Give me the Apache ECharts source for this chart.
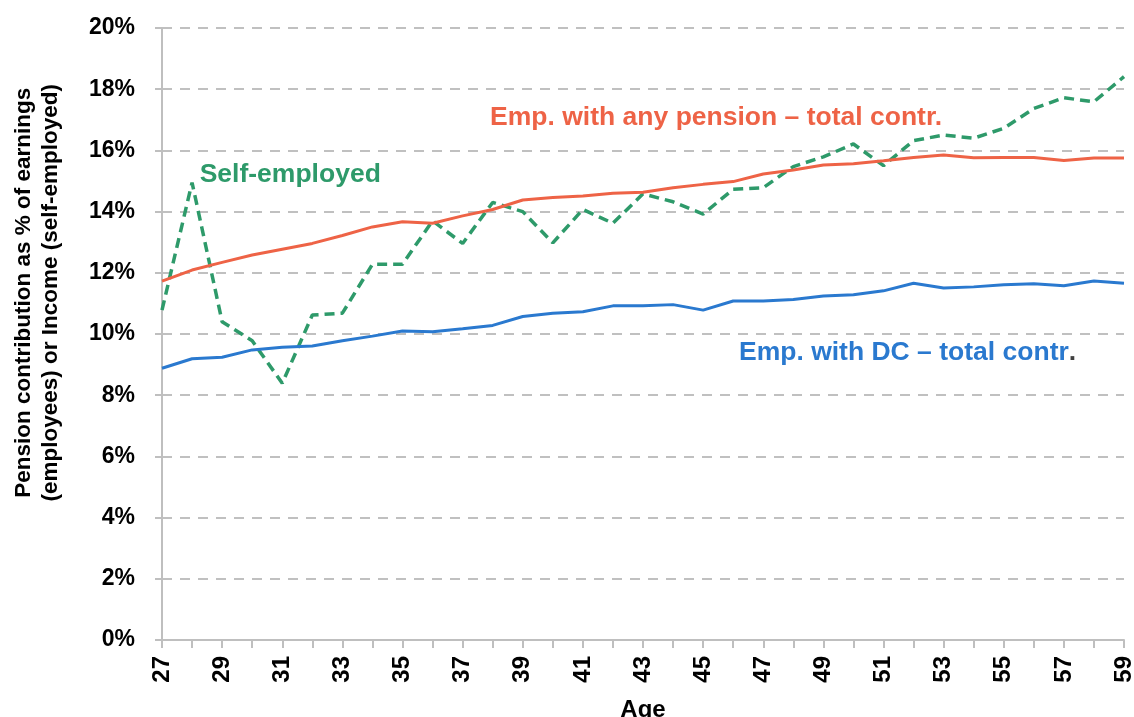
<!DOCTYPE html>
<html>
<head>
<meta charset="utf-8">
<script src="https://cdn.jsdelivr.net/npm/echarts@6/dist/echarts.min.js"></script>
<style>
html, body { margin: 0; padding: 0; background: #fff; }
#main { width: 1134px; height: 717px; }
</style>
</head>
<body>
<div id="main"></div>
<script type="text/javascript">
	// ages 27..59
	var ages = [];
	for (var a = 27; a <= 59; a++) {
		ages.push(String(a));
	}

	// 雇员 - 任意养老金 总缴费 (%)
	var anyPension = [11.73, 12.09, 12.34, 12.58, 12.77, 12.96, 13.22, 13.5, 13.67, 13.62,
		13.86, 14.07, 14.38, 14.46, 14.51, 14.6, 14.63, 14.78, 14.89, 14.98,
		15.23, 15.36, 15.52, 15.56, 15.66, 15.77, 15.85, 15.76, 15.77, 15.77,
		15.67, 15.75, 15.75];

	// 雇员 - DC 总缴费 (%)
	var dcPension = [8.88, 9.19, 9.24, 9.48, 9.57, 9.61, 9.78, 9.93, 10.1, 10.07,
		10.17, 10.28, 10.57, 10.68, 10.73, 10.92, 10.92, 10.96, 10.78, 11.08,
		11.08, 11.13, 11.24, 11.28, 11.41, 11.66, 11.5, 11.54, 11.61, 11.64,
		11.58, 11.73, 11.66];

	// 自雇 (%)
	var selfEmployed = [10.78, 14.95, 10.4, 9.78, 8.39, 10.62, 10.68, 12.28, 12.28, 13.7,
		12.96, 14.3, 14.0, 12.98, 14.07, 13.62, 14.58, 14.32, 13.92, 14.73,
		14.78, 15.47, 15.79, 16.21, 15.5, 16.32, 16.5, 16.4, 16.72, 17.37,
		17.72, 17.59, 18.41];

	var colors = ['#EE6346', '#2A79CF', '#2E9A6A'];
	var fontFam = 'Liberation Sans, Arial, sans-serif';

	// 标签 (用 markPoint 放在数据坐标上)
	function labelPoint(age, val, text, color, dx) {
		return {
			symbol : 'circle',
			symbolSize : 1,
			itemStyle : { color : 'rgba(0,0,0,0)' },
			label : { show : true },
			data : [ {
				coord : [ age, val ],
				label : {
					show : true,
					position : 'inside',
					offset : [ dx, 0 ],
					formatter : text,
					fontFamily : fontFam,
					fontWeight : 'bold',
					fontSize : 26.5,
					color : color,
					rich : {
						dot : {
							fontFamily : fontFam,
							fontWeight : 'bold',
							fontSize : 26.5,
							color : '#404040'
						}
					}
				}
			} ]
		};
	}

	var myChart = echarts.init(document.getElementById('main'));
	var option = {
		backgroundColor : '#ffffff',
		animation : false,
		grid : {
			left : 162,
			right : 10,
			top : 28,
			bottom : 77,
			containLabel : false,
			outerBoundsMode : 'none'
		},
		xAxis : {
			type : 'category',
			boundaryGap : false,
			data : ages,
			name : 'Age',
			nameLocation : 'middle',
			nameGap : 58,
			nameTextStyle : {
				fontFamily : fontFam,
				fontWeight : 'bold',
				fontSize : 24,
				color : '#000'
			},
			axisLine : {
				lineStyle : { color : '#BFBFBF', width : 2 }
			},
			axisTick : {
				show : true,
				interval : 0,
				length : 8,
				lineStyle : { color : '#BFBFBF', width : 2 }
			},
			axisLabel : {
				interval : 1,
				rotate : 90,
				margin : 16,
				fontFamily : fontFam,
				fontWeight : 'bold',
				fontSize : 24,
				color : '#000'
			},
			splitLine : { show : false }
		},
		yAxis : {
			type : 'value',
			min : 0,
			max : 20,
			interval : 2,
			axisLine : {
				show : true,
				lineStyle : { color : '#BFBFBF', width : 2 }
			},
			axisTick : {
				show : true,
				length : 7,
				lineStyle : { color : '#BFBFBF', width : 2 }
			},
			axisLabel : {
				formatter : '{value}%',
				margin : 27,
				fontFamily : fontFam,
				fontWeight : 'bold',
				fontSize : 23,
				color : '#000'
			},
			splitLine : {
				show : true,
				lineStyle : { color : '#C0C0C0', width : 2, type : [ 10, 8 ] }
			}
		},
		graphic : [ {
			type : 'text',
			left : 10,
			top : 84,
			rotation : Math.PI / 2,
			style : {
				text : 'Pension contribution as % of earnings\n(employees) or Income (self-employed)',
				font : 'bold 22.5px ' + fontFam,
				fill : '#000',
				textAlign : 'center',
				lineHeight : 27
			}
		} ],
		series : [ {
			name : 'Emp. with any pension – total contr.',
			type : 'line',
			data : anyPension,
			symbol : 'none',
			z : 3,
			lineStyle : { color : colors[0], width : 3 },
			markPoint : labelPoint('45', 17.06, 'Emp. with any pension – total contr.', colors[0], 13)
		}, {
			name : 'Emp. with DC – total contr.',
			type : 'line',
			data : dcPension,
			symbol : 'none',
			z : 3,
			lineStyle : { color : colors[1], width : 3 },
			markPoint : labelPoint('52', 9.38, 'Emp. with DC – total contr{dot|.}', colors[1], -6)
		}, {
			name : 'Self-employed',
			type : 'line',
			data : selfEmployed,
			symbol : 'none',
			z : 2,
			lineStyle : { color : colors[2], width : 3.5, type : [ 10, 6 ] },
			markPoint : labelPoint('31', 15.2, 'Self-employed', colors[2], 8)
		} ]
	};
	myChart.setOption(option);
</script>
</body>
</html>
